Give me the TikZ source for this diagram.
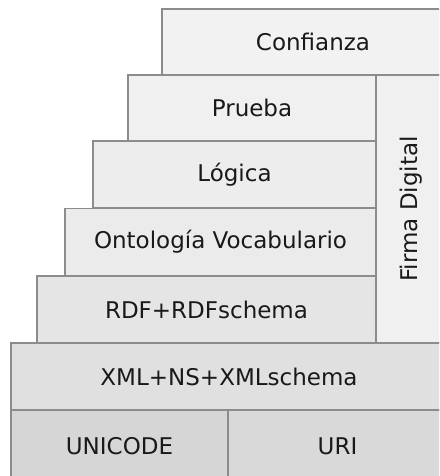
\documentclass[tikz,border=0pt]{standalone}
\usepackage{fontspec}
\setmainfont{DejaVu Sans}
\begin{document}
\begin{tikzpicture}[x=1pt,y=-1pt,
  layer/.style={draw=black!45,line width=1.4pt,inner sep=0pt,text=black!90,
    font=\fontsize{23}{27}\selectfont},
]
\path[use as bounding box] (0,0) rectangle (439,476);
\clip (0,0) rectangle (439,476);
\node[layer,fill=black!5,minimum width=302,minimum height=66] (conf) at (313,42) {Confianza};
\node[layer,fill=black!6,minimum width=70,minimum height=268] (firma) at (411,209) {};
\node[rotate=90,text=black!90,font=\fontsize{23}{27}\selectfont] (firmat) at (firma.center) {Firma Digital};
\node[layer,fill=black!6,minimum width=248,minimum height=66] (prueba) at (252,108) {Prueba};
\node[layer,fill=black!7,minimum width=283,minimum height=67] (logica) at (234.5,174.5) {Lógica};
\node[layer,fill=black!8,minimum width=311,minimum height=67] (onto) at (220.5,242) {Ontología Vocabulario};
\node[layer,fill=black!10,minimum width=339,minimum height=67] (rdf) at (206.5,309.5) {RDF+RDFschema};
\node[layer,fill=black!12,minimum width=436,minimum height=67] (xml) at (229,376.5) {XML+NS+XMLschema};
\node[layer,fill=black!16,minimum width=217,minimum height=72] (uni) at (119.5,446) {UNICODE};
\node[layer,fill=black!15,minimum width=219,minimum height=72] (uri) at (337.5,446) {URI};
\end{tikzpicture}
\end{document}
